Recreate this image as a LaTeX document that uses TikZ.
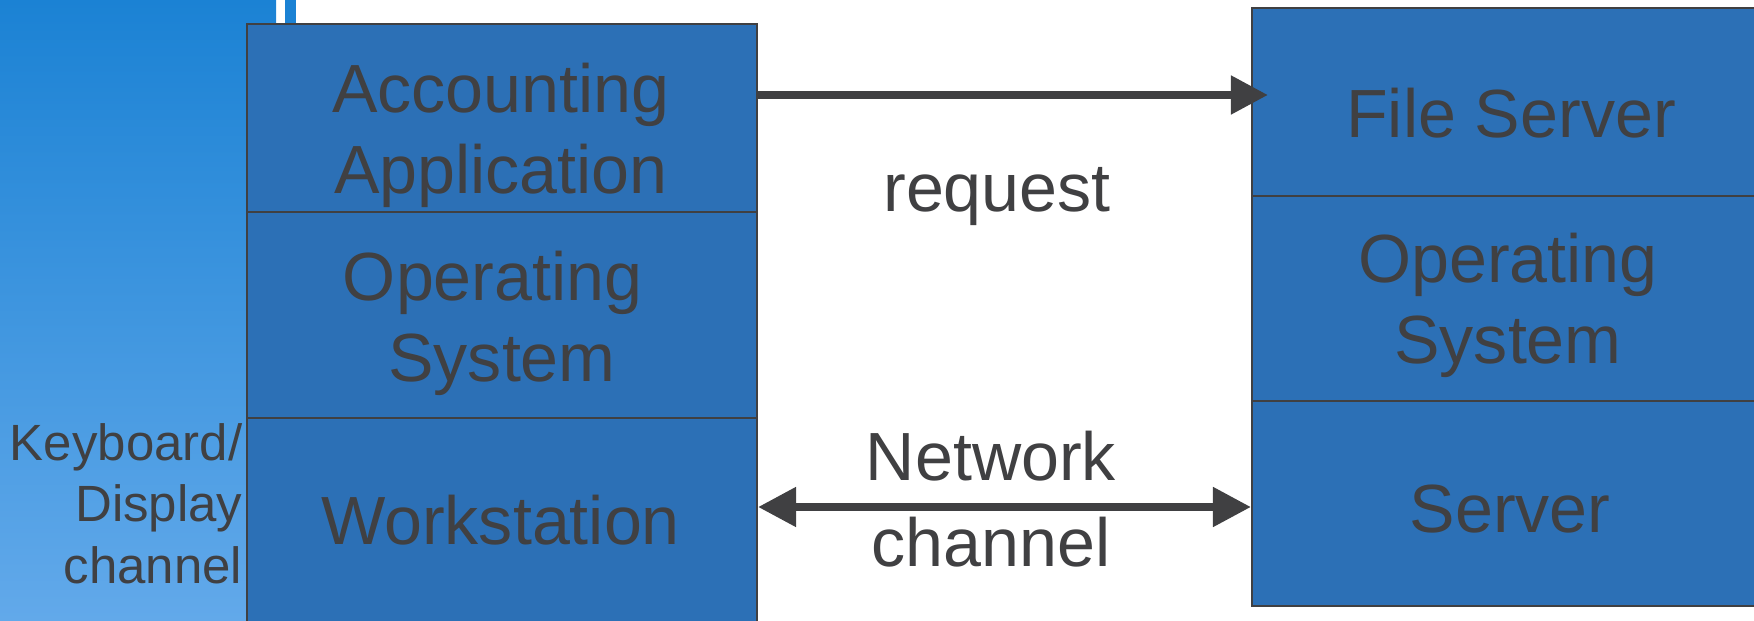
\documentclass[tikz,border=0pt]{standalone}
\usepackage{fontspec}
\setmainfont{Liberation Sans}
\usepackage{tikz}
\usetikzlibrary{positioning, arrows.meta}

\definecolor{tierblue}{RGB}{44,112,182}
\definecolor{inkgray}{RGB}{64,64,66}
\definecolor{sidetop}{RGB}{27,130,212}
\definecolor{sidebot}{RGB}{98,169,234}

\tikzset{
  tier/.style={draw=inkgray, line width=0.6pt, fill=tierblue, minimum width=5.10cm, inner sep=0pt},
  tiertext/.style={text=inkgray, align=center, inner sep=0pt, font=\fontsize{19.4pt}{23.1pt}\selectfont},
  sidetext/.style={text=inkgray, align=right, inner sep=0pt, font=\fontsize{14.5pt}{17.5pt}\selectfont},
  link/.style={draw=inkgray, line width=0.08cm}
}

\begin{document}
\begin{tikzpicture}[x=0.1mm, y=0.1mm]
    \useasboundingbox (0,0) rectangle (1754,620);

    % Side panel with gradient
    \shade[top color=sidetop, bottom color=sidebot] (0,0) rectangle (276,620);
    \fill[sidetop] (285,590) rectangle (296,620);

    % Workstation stack
    \node[tier, minimum height=1.88cm] (a) at (502,502) {};
    \node[tier, minimum height=2.06cm] (b) at (502,305) {};
    \node[tier, minimum height=2.32cm] (c) at (502,86) {};
    \node[tiertext] (a1) at (501,484.3) {Accounting\\Application};
    \node[tiertext] (b1) at (502,297) {Operating\hspace*{0.186cm}\\System};
    \node[tiertext, anchor=base] (c1) at (500.5,75.7) {Workstation};

    % Server stack
    \node[tier, minimum width=5.16cm, minimum height=1.88cm] (d) at (1510,518) {};
    \node[tier, minimum width=5.16cm, minimum height=2.05cm] (e) at (1510,321.5) {};
    \node[tier, minimum width=5.16cm, minimum height=2.05cm] (f) at (1510,116.5) {};
    \node[tiertext, anchor=base] (d1) at (1511,482) {File Server};
    \node[tiertext] (e1) at (1508,314.9) {Operating\\System};
    \node[tiertext, anchor=base] (f1) at (1510,87.8) {Server};

    % Side label
    \node[sidetext, anchor=east] (k) at (243,116.5) {Keyboard/\\Display\\channel};

    % Request and network channel
    \node[tiertext, anchor=base] (r) at (997,408) {request};
    \node[tiertext, font=\fontsize{19.4pt}{24.5pt}\selectfont] (n) at (991,121) {Network\\channel};
    \draw[link, -{Triangle[length=0.37cm, width=0.37cm]}]
        ([yshift=0.23cm]a.east) -- ([xshift=0.17cm, yshift=0.23cm]a.east -| d.west);
    \draw[link, {Triangle[length=0.38cm, width=0.38cm]}-{Triangle[length=0.38cm, width=0.38cm]}]
        ([yshift=0.27cm]c.east) -- ([yshift=0.27cm]c.east -| f.west);
\end{tikzpicture}
\end{document}
